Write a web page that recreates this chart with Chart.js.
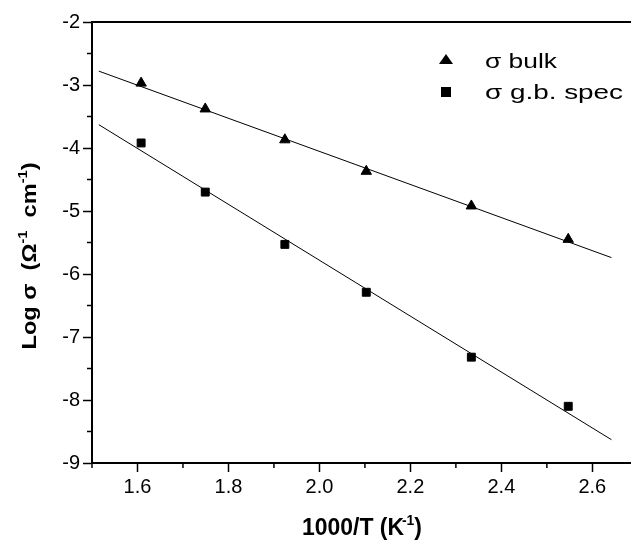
<!DOCTYPE html>
<html>
<head>
<script src="https://cdn.jsdelivr.net/npm/chart.js"></script>
<style>
  html, body { margin: 0; padding: 0; background: #fff; overflow: hidden; }
  canvas { display: block; }
</style>
</head>
<body>
<canvas id="arrhenius" width="631" height="544"></canvas>
<script>
// values
const invT     = [1.608, 1.749, 1.924, 2.103, 2.334, 2.547];
const logBulk  = [-2.97, -3.38, -3.87, -4.37, -4.92, -5.45];
const logGb    = [-3.92, -4.70, -5.53, -6.29, -7.32, -8.10];
// linear fits, as drawn (end points)
const fitX     = [1.515, 2.642];
const fitBulk  = [-2.78, -5.74];
const fitGb    = [-3.63, -8.63];

const seriesNames = ['σ bulk', 'σ g.b. spec'];
const FONT = 'Arial, "Liberation Sans", sans-serif';

function pts(xs, ys) {
  return xs.map((x, i) => ({ x: x, y: ys[i] }));
}

// text with superscripts; stretched along its direction to "len" if given
function drawRich(ctx, parts, size, weight, x, y, align, len) {
  const supSize = Math.round(size * 0.62);
  let w = 0;
  const widths = parts.map(p => {
    ctx.font = weight + ' ' + (p[1] ? supSize : size) + 'px ' + FONT;
    const m = ctx.measureText(p[0]).width + (p[2] || 0);
    w += m;
    return m;
  });
  const sx = len ? len / w : 1;
  ctx.save();
  ctx.translate(x, y);
  ctx.scale(sx, 1);
  ctx.fillStyle = '#000';
  ctx.textBaseline = 'alphabetic';
  ctx.textAlign = 'left';
  let cx = align === 'center' ? -w / 2 : 0;
  parts.forEach((p, i) => {
    ctx.font = weight + ' ' + (p[1] ? supSize : size) + 'px ' + FONT;
    ctx.fillText(p[0], cx + (p[2] || 0), p[1] ? -size * 0.42 : 0);
    cx += widths[i];
  });
  ctx.restore();
}

const extras = {
  id: 'extras',
  afterDraw(chart) {
    const ctx = chart.ctx;
    const area = chart.chartArea;
    const xs = chart.scales.x, ys = chart.scales.y;

    // top frame line
    ctx.save();
    ctx.strokeStyle = '#000';
    ctx.lineWidth = 2;
    ctx.beginPath();
    ctx.moveTo(area.left - 1, area.top);
    ctx.lineTo(chart.width, area.top);
    ctx.stroke();

    // minor ticks
    ctx.lineWidth = 1.5;
    const xt = xs.ticks.map(t => t.value);
    const xstep = xt[1] - xt[0];
    const xminor = xt.map(v => v - xstep / 2).concat([xt[xt.length - 1] + xstep / 2]);
    xminor.forEach(v => {
      if (v < xs.min - 1e-9 || v > xs.max) return;
      const px = xs.getPixelForValue(v);
      ctx.beginPath();
      ctx.moveTo(px, area.bottom);
      ctx.lineTo(px, area.bottom + 5);
      ctx.stroke();
    });
    const yt = ys.ticks.map(t => t.value);
    const ystep = yt[1] - yt[0];
    yt.slice(0, -1).forEach(v => {
      const py = ys.getPixelForValue(v + ystep / 2);
      ctx.beginPath();
      ctx.moveTo(area.left - 5, py);
      ctx.lineTo(area.left, py);
      ctx.stroke();
    });
    ctx.restore();

    // axis titles
    ctx.save();
    ctx.translate(36, 256);
    ctx.rotate(-Math.PI / 2);
    drawRich(ctx, [['Log σ  (Ω'], ['-1', true], ['  cm'], ['-1', true], [')']], 21, 'bold', 0, 0, 'center', 187);
    ctx.restore();
    drawRich(ctx, [['1000/T (K'], ['-1', true, -2], [')']], 23, 'bold', 362, 535, 'center', 120);

    // legend
    ctx.save();
    ctx.fillStyle = '#000';
    const lx = 446;
    ctx.beginPath();
    ctx.moveTo(lx, 54);
    ctx.lineTo(lx + 7, 64);
    ctx.lineTo(lx - 7, 64);
    ctx.closePath();
    ctx.fill();
    ctx.fillRect(lx - 5, 87, 10, 10);
    ctx.restore();
    drawRich(ctx, [[seriesNames[0]]], 21, 'normal', 485, 67.5, 'left', 72);
    drawRich(ctx, [[seriesNames[1]]], 21, 'normal', 485, 98.5, 'left', 138);
  }
};

new Chart(document.getElementById('arrhenius'), {
  type: 'scatter',
  data: {
    datasets: [
      { label: seriesNames[0], data: pts(invT, logBulk), pointStyle: 'triangle', pointRadius: 6,
        backgroundColor: '#000', borderColor: '#000', borderWidth: 1, showLine: false },
      { label: seriesNames[1], data: pts(invT, logGb), pointStyle: 'rect', pointRadius: 5.6,
        backgroundColor: '#000', borderColor: '#000', borderWidth: 1, showLine: false },
      { label: 'fit bulk', data: pts(fitX, fitBulk), showLine: true, pointRadius: 0,
        borderColor: '#000', borderWidth: 1 },
      { label: 'fit gb', data: pts(fitX, fitGb), showLine: true, pointRadius: 0,
        borderColor: '#000', borderWidth: 1 }
    ]
  },
  options: {
    responsive: false,
    animation: false,
    layout: { autoPadding: false, padding: { top: 22, right: 0, left: 0, bottom: 0 } },
    plugins: { legend: { display: false }, tooltip: { enabled: false } },
    scales: {
      x: {
        type: 'linear',
        min: 1.5,
        max: 2.685,
        afterFit(scale) {
          scale.height = 81;
          scale.paddingLeft = 0;
          scale.paddingRight = 0;
        },
        border: { display: true, color: '#000', width: 2 },
        grid: { drawOnChartArea: false, tickLength: 9, tickColor: '#000', tickWidth: 1.5 },
        ticks: {
          stepSize: 0.2, includeBounds: false, autoSkip: false, maxRotation: 0,
          color: '#000', padding: 3, font: { family: FONT, size: 20 },
          callback: v => v.toFixed(1)
        }
      },
      y: {
        min: -9,
        max: -2,
        afterFit(scale) {
          scale.width = 92;
          scale.paddingTop = 0;
          scale.paddingBottom = 0;
        },
        border: { display: true, color: '#000', width: 2 },
        grid: { drawOnChartArea: false, tickLength: 9, tickColor: '#000', tickWidth: 1.5 },
        ticks: {
          stepSize: 1, color: '#000', padding: 3, font: { family: FONT, size: 20 }
        }
      }
    }
  },
  plugins: [extras]
});
</script>
</body>
</html>
